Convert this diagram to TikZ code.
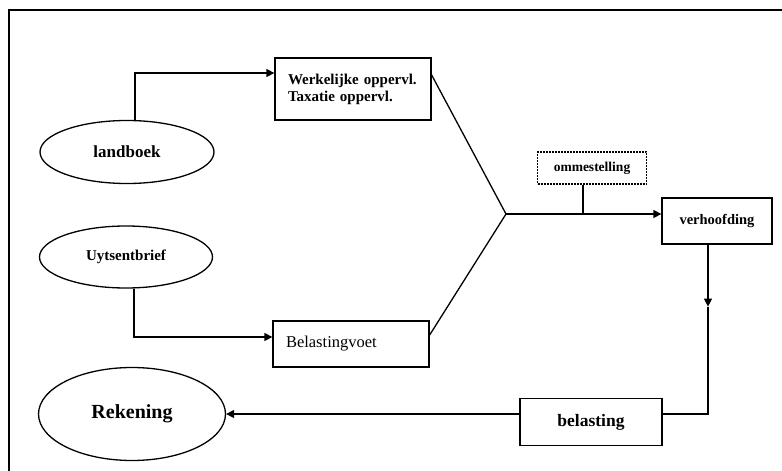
\documentclass[tikz,border=0pt]{standalone}
\usepackage{fontspec}
\setmainfont{Liberation Serif}
\usetikzlibrary{shapes.geometric,arrows.meta}

\begin{document}
\begin{tikzpicture}[x=1pt,y=-1pt,
  line width=1.3pt,
  arr/.style={-{Triangle[length=8pt,width=8pt]}},
  oval node/.style={ellipse,draw,inner sep=0pt},
  box node/.style={rectangle,draw,inner sep=0pt},
  left box/.style={box node,align=left,text width=130pt,inner xsep=13pt}]

  \useasboundingbox (0,0) rectangle (782,471);
  % frame
  \draw[line width=1.6pt] (9,471) -- (9,10) -- (782,10);

  \node[oval node,minimum width=174pt,minimum height=63pt,font=\fontsize{17}{20}\selectfont\bfseries] (land) at (127,152) {landboek};
  \node[oval node,minimum width=173pt,minimum height=62pt,font=\fontsize{15}{18}\selectfont\bfseries] (uyts) at (126,257) {Uytsentbrief};
  \node[oval node,minimum width=187pt,minimum height=93pt,font=\fontsize{20}{24}\selectfont\bfseries] (reke) at (132,414) {Rekening};

  \node[left box,minimum height=62pt,font=\fontsize{15}{17}\selectfont\bfseries] (werk) at (353,89)
    {Werkelijke oppervl.\\Taxatie oppervl.\\[-4pt]};
  \node[left box,minimum height=46pt,font=\fontsize{16.5}{19}\selectfont] (bvoet) at (351,344) {Belastingvoet};
  \node[box node,dashed,dash pattern=on 2pt off 1pt,minimum width=109pt,minimum height=32pt,font=\fontsize{13.5}{16}\selectfont\bfseries] (omme) at (592,168) {ommestelling};
  \node[box node,minimum width=110pt,minimum height=46pt,font=\fontsize{14.5}{17}\selectfont\bfseries] (verh) at (717,221) {verhoofding};
  \node[box node,minimum width=142pt,minimum height=47pt,font=\fontsize{17.5}{20}\selectfont\bfseries] (bel) at (591,422) {belasting};

  \coordinate (join) at (506,214);

  \draw[arr] ([xshift=8pt]land.north) |- ([yshift=16pt]werk.west);
  \draw[arr] ([xshift=8pt]uyts.south) |- ([yshift=7pt]bvoet.west);
  \draw ([yshift=14pt]werk.east) -- (join);
  \draw ([yshift=9pt]bvoet.east) -- (join);
  \draw ([xshift=-9pt]omme.south) -- ([xshift=-9pt]omme.south |- join);
  \draw[arr] (join) -- (verh.west |- join);
  \draw[arr] ([xshift=-9pt]verh.south) -- ++(0,62) coordinate (down);
  \draw (down) |- ([yshift=8pt]bel.east);
  \draw[arr] ([yshift=8pt]bel.west) -- (reke.east);
\end{tikzpicture}
\end{document}
